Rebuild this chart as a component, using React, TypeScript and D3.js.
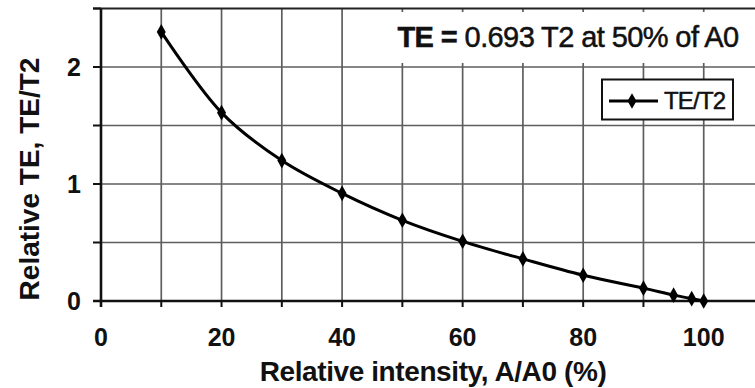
import * as d3 from 'd3';

// relative intensity A/A0 (%) and TE/T2
const INTENSITY = [10, 20, 30, 40, 50, 60, 70, 80, 90, 95, 98, 100];
const TE_T2 = [2.3, 1.61, 1.2, 0.92, 0.69, 0.51, 0.36, 0.22, 0.11, 0.05, 0.02, 0];

const X_GRID = [10, 20, 30, 40, 50, 60, 70, 80, 90, 100, 110];
const X_LABELS = [0, 20, 40, 60, 80, 100];
const Y_GRID = [0.5, 1, 1.5, 2];
const Y_LABELS = [0, 1, 2];
const Y_TICKS = [0, 0.5, 1, 1.5, 2, 2.5];

const W = 755;
const H = 388;
const FONT = '"Liberation Sans", Arial, sans-serif';

export default function App() {
  const x = d3.scaleLinear().domain([0, 110]).range([101, 764]);
  const y = d3.scaleLinear().domain([0, 2.5]).range([301, 8.5]);

  const pts = INTENSITY.map((v, i) => [v, TE_T2[i]] as [number, number]);
  const line = d3.line<[number, number]>()
    .x(d => x(d[0]))
    .y(d => y(d[1]))
    .curve(d3.curveCatmullRom.alpha(0.5));
  const diamond = d3.symbol().type(d3.symbolDiamond).size(70)();

  return (
    <div style={{ position: 'fixed', left: 0, top: 0 }}>
      <svg width={W} height={H} style={{ display: 'block', background: '#fff' }}>
        {/* grid */}
        {X_GRID.map(t => (
          <line key={'gx' + t} x1={x(t)} x2={x(t)} y1={y(2.5)} y2={y(0)} stroke="#5e5e5e" strokeWidth={1.7} />
        ))}
        {Y_GRID.map(t => (
          <line key={'gy' + t} x1={x(0)} x2={W} y1={y(t)} y2={y(t)} stroke="#5e5e5e" strokeWidth={1.7} />
        ))}

        {/* title box */}
        <rect x={385} y={12} width={W - 385} height={51} fill="#fff" />
        <text x={568} y={47} textAnchor="middle" fontFamily={FONT} fontSize={29} fill="#111" letterSpacing="-0.6" stroke="#111" strokeWidth={0.5}>
          <tspan fontWeight="bold">TE = </tspan>
          <tspan>0.693 T2 at 50% of A0</tspan>
        </text>

        {/* frame + axes */}
        <line x1={x(0) - 8} x2={W} y1={y(2.5)} y2={y(2.5)} stroke="#222" strokeWidth={2.2} />
        <line x1={x(0)} x2={x(0)} y1={y(2.5)} y2={y(0) + 6} stroke="#111" strokeWidth={2.6} />
        <line x1={x(0) - 8} x2={W} y1={y(0)} y2={y(0)} stroke="#111" strokeWidth={2.6} />
        {Y_TICKS.map(t => (
          <line key={'ty' + t} x1={x(0) - 8} x2={x(0)} y1={y(t)} y2={y(t)} stroke="#111" strokeWidth={2} />
        ))}
        {[0, ...X_GRID].map(t => (
          <line key={'tx' + t} x1={x(t)} x2={x(t)} y1={y(0)} y2={y(0) + 6} stroke="#111" strokeWidth={2} />
        ))}

        {/* tick labels */}
        {Y_LABELS.map(t => (
          <text key={'ly' + t} x={81} y={y(t)} textAnchor="end" dominantBaseline="central" fontFamily={FONT} fontSize={25} fontWeight="bold" fill="#111">
            {t}
          </text>
        ))}
        {X_LABELS.map(t => (
          <text key={'lx' + t} x={x(t)} y={346} textAnchor="middle" fontFamily={FONT} fontSize={25} fontWeight="bold" fill="#111">
            {t}
          </text>
        ))}

        {/* axis titles */}
        <text x={433} y={381} textAnchor="middle" fontFamily={FONT} fontSize={28} fontWeight="bold" fill="#111" letterSpacing="-0.4">
          Relative intensity, A/A0 (%)
        </text>
        <text transform="translate(39,179) rotate(-90)" textAnchor="middle" fontFamily={FONT} fontSize={28} fontWeight="bold" fill="#111" letterSpacing="0">
          Relative TE, TE/T2
        </text>

        {/* series */}
        <path d={line(pts) ?? ''} fill="none" stroke="#000" strokeWidth={3} />
        {pts.map(p => (
          <path key={p[0]} d={diamond ?? ''} transform={`translate(${x(p[0])},${y(p[1])})`} fill="#000" />
        ))}

        {/* legend */}
        <rect x={602} y={79.5} width={131} height={40} fill="#fff" stroke="#111" strokeWidth={2} />
        <line x1={609} x2={658} y1={101} y2={101} stroke="#000" strokeWidth={3} />
        <path d={diamond ?? ''} transform="translate(632,101)" fill="#000" />
        <text x={664} y={109} fontFamily={FONT} fontSize={24} fill="#111" letterSpacing="-0.8" stroke="#111" strokeWidth={0.5}>
          TE/T2
        </text>
      </svg>
    </div>
  );
}
